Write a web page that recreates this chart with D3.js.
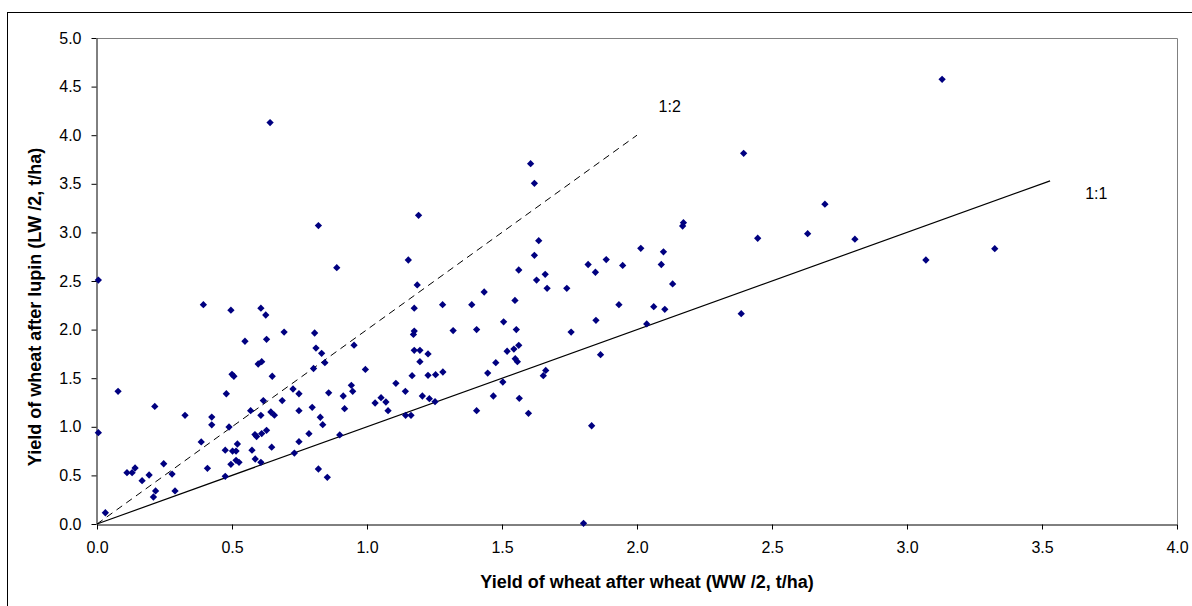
<!DOCTYPE html>
<html>
<head>
	<title>Yield after lupin vs wheat</title>
	<style type="text/css">
		body { margin: 0; background: #fff; }
		svg { display: block; font-family: "Liberation Sans", Arial, sans-serif; }
		.tick text { font-size: 16px; fill: #000; }
		.axis path, .axis line { stroke: #000; }
		.title { font-size: 18px; font-weight: bold; }
	</style>
</head>
<body>
	<div id="chart"></div>
	<script src="https://d3js.org/d3.v7.min.js"></script>
	<script type="text/javascript">
		// yield of wheat after wheat (x) vs after lupin (y), t/ha
		var wwYield = [
			0.005, 0.394, 0.496, 0.607, 0.625, 0.693, 0.548, 0.628, 0.597, 0.61,
			0.50, 0.507, 0.649, 0.078, 0.479, 0.686, 0.616, 0.569, 0.644, 0.657,
			0.607, 0.214, 0.326, 0.425, 0.425, 0.005, 0.489, 0.628, 0.61, 0.585,
			0.591, 0.386, 0.52, 0.475, 0.502, 0.515, 0.574, 0.647, 0.496, 0.515,
			0.526, 0.586, 0.607, 0.247, 0.111, 0.13, 0.141, 0.193, 0.167, 0.278,
			0.409, 0.475, 0.217, 0.209, 0.289, 0.031,
			1.186, 1.175, 1.28, 1.388, 0.806, 1.175, 1.172, 1.319, 1.406, 0.811,
			0.832, 0.952, 0.844, 0.802, 1.175, 1.196, 1.226, 1.196, 0.994, 1.167,
			1.226, 1.254, 1.281, 0.726, 0.748, 0.858, 0.942, 0.947, 0.912, 1.107,
			1.142, 1.052, 1.03, 1.07, 1.078, 1.205, 1.231, 1.252, 1.406, 0.748,
			0.797, 0.917, 0.827, 0.836, 1.143, 1.163, 0.785, 0.899, 0.748, 0.731,
			0.82, 0.853,
			1.628, 1.667, 1.74, 2.132, 1.434, 1.548, 1.933, 2.062, 2.103, 1.506,
			1.848, 1.553, 1.756, 2.036, 1.519, 1.544, 1.562, 1.549, 1.557, 1.477,
			1.865, 1.447, 1.503, 1.662, 1.653, 1.468, 1.564, 1.598, 1.832, 1.802,
			2.696, 2.172, 2.169, 2.447, 2.632, 2.807, 2.386,
			0.641, 0.82, 1.191, 0.888, 1.153,
			1.606, 1.62, 2.395, 1.636, 1.62, 2.014, 2.098, 1.562, 1.66, 1.819,
			1.846, 1.886, 1.947, 2.09,
			3.13, 3.07, 3.325
		];
		var lwYield = [
			2.51, 2.256, 2.20, 2.22, 2.15, 1.975, 1.88, 1.90, 1.646, 1.67,
			1.54, 1.52, 1.52, 1.365, 1.34, 1.27, 1.27, 1.166, 1.152, 1.12,
			1.118, 1.21, 1.118, 1.10, 1.02, 0.94, 0.998, 0.964, 0.93, 0.92,
			0.90, 0.844, 0.823, 0.76, 0.75, 0.75, 0.76, 0.79, 0.614, 0.655,
			0.635, 0.669, 0.635, 0.62, 0.528, 0.528, 0.576, 0.504, 0.446, 0.514,
			0.573, 0.49, 0.34, 0.278, 0.34, 0.116,
			2.46, 2.22, 2.256, 2.256, 1.965, 1.985, 1.95, 1.99, 2.0, 1.81,
			1.756, 1.84, 1.66, 1.60, 1.787, 1.787, 1.75, 1.67, 1.59, 1.526,
			1.53, 1.536, 1.564, 1.389, 1.34, 1.35, 1.427, 1.365, 1.317, 1.447,
			1.365, 1.30, 1.245, 1.255, 1.166, 1.317, 1.289, 1.258, 1.166, 1.166,
			1.20, 1.186, 1.098, 1.022, 1.118, 1.118, 0.929, 0.916, 0.847, 0.73,
			0.566, 0.48,
			2.51, 2.425, 2.425, 2.47, 2.387, 2.30, 2.256, 2.236, 2.209, 2.08,
			2.095, 2.0, 1.975, 2.058, 1.777, 1.80, 1.838, 1.70, 1.67, 1.66,
			1.742, 1.553, 1.461, 1.58, 1.526, 1.317, 1.293, 1.139, 1.011, 0.007,
			3.29, 3.10, 3.066, 2.94, 2.987, 2.93, 2.164,
			4.13, 3.07, 3.176, 2.637, 2.716,
			3.707, 3.505, 3.814, 2.915, 2.764, 2.836, 2.80, 2.613, 2.569, 2.67,
			2.59, 2.72, 2.66, 2.67,
			4.575, 2.716, 2.833
		];
		var xTicks = [0, 0.5, 1.0, 1.5, 2.0, 2.5, 3.0, 3.5, 4.0];
		var yTicks = [0, 0.5, 1.0, 1.5, 2.0, 2.5, 3.0, 3.5, 4.0, 4.5, 5.0];
		// reference lines: [x0, y0, x1, y1]
		var line11 = [0, 0, 3.53, 3.53];
		var line12 = [0, 0, 2.0, 4.0];

		var width = 1192, height = 606;
		var plotL = 97, plotR = 1177, plotT = 38, plotB = 524;

		var svg = d3.select('#chart')
					.append('svg')
					.attr('width', width)
					.attr('height', height);

		// outer chart frame
		svg.append('rect')
			.attr('x', 7.5).attr('y', 12.5)
			.attr('width', 1300).attr('height', 800)
			.attr('fill', 'none').attr('stroke', '#000');

		var x = d3.scaleLinear().domain([0, 4]).range([plotL, plotR]),
			y = d3.scaleLinear().domain([0, 5]).range([plotB, plotT]);

		// grey plot area border on top and right
		svg.append('path')
			.attr('d', 'M' + plotL + ',' + (plotT + 0.5) + 'H' + (plotR + 0.5) + 'V' + plotB)
			.attr('fill', 'none').attr('stroke', '#808080');

		var xAxis = d3.axisBottom(x).tickValues(xTicks).tickFormat(d3.format('.1f'))
			.tickSizeInner(5).tickSizeOuter(0).tickPadding(12);
		svg.append('g').attr('class', 'axis')
			.attr('transform', 'translate(0,' + (plotB + 0.5) + ')')
			.call(xAxis);

		var yAxis = d3.axisLeft(y).tickValues(yTicks).tickFormat(d3.format('.1f'))
			.tickSizeInner(5).tickSizeOuter(0).tickPadding(10);
		svg.append('g').attr('class', 'axis')
			.attr('transform', 'translate(' + (plotL - 0.5) + ',0)')
			.call(yAxis);

		// 1:1 and 1:2 lines
		svg.append('line')
			.attr('x1', x(line11[0])).attr('y1', y(line11[1]))
			.attr('x2', x(line11[2])).attr('y2', y(line11[3]))
			.attr('stroke', '#000').attr('stroke-width', 1.2);
		svg.append('line')
			.attr('x1', x(line12[0])).attr('y1', y(line12[1]))
			.attr('x2', x(line12[2])).attr('y2', y(line12[3]))
			.attr('stroke', '#000').attr('stroke-width', 1)
			.attr('stroke-dasharray', '7,5');

		svg.append('text').attr('x', x(3.66)).attr('y', y(3.4))
			.attr('font-size', 16).attr('dy', '0.35em').text('1:1');
		svg.append('text').attr('x', x(2.08)).attr('y', y(4.3))
			.attr('font-size', 16).attr('dy', '0.35em').text('1:2');

		// points
		var pts = wwYield.map(function(d, i) { return [d, lwYield[i]]; });
		var diamond = d3.symbol().type(d3.symbolDiamond2).size(34);
		svg.append('g').selectAll('path')
			.data(pts)
			.enter()
			.append('path')
			.attr('d', diamond)
			.attr('transform', function(d) {
				return 'translate(' + x(d[0]) + ',' + y(d[1]) + ')';
			})
			.attr('fill', '#000080');

		// axis titles
		svg.append('text').attr('class', 'title')
			.attr('x', 647).attr('y', 582)
			.attr('dy', '0.35em').attr('text-anchor', 'middle')
			.text('Yield of wheat after wheat (WW /2, t/ha)');
		svg.append('text').attr('class', 'title')
			.attr('transform', 'translate(35,307) rotate(-90)')
			.attr('dy', '0.35em').attr('text-anchor', 'middle')
			.text('Yield of wheat after lupin (LW /2, t/ha)');
	</script>
</body>
</html>
